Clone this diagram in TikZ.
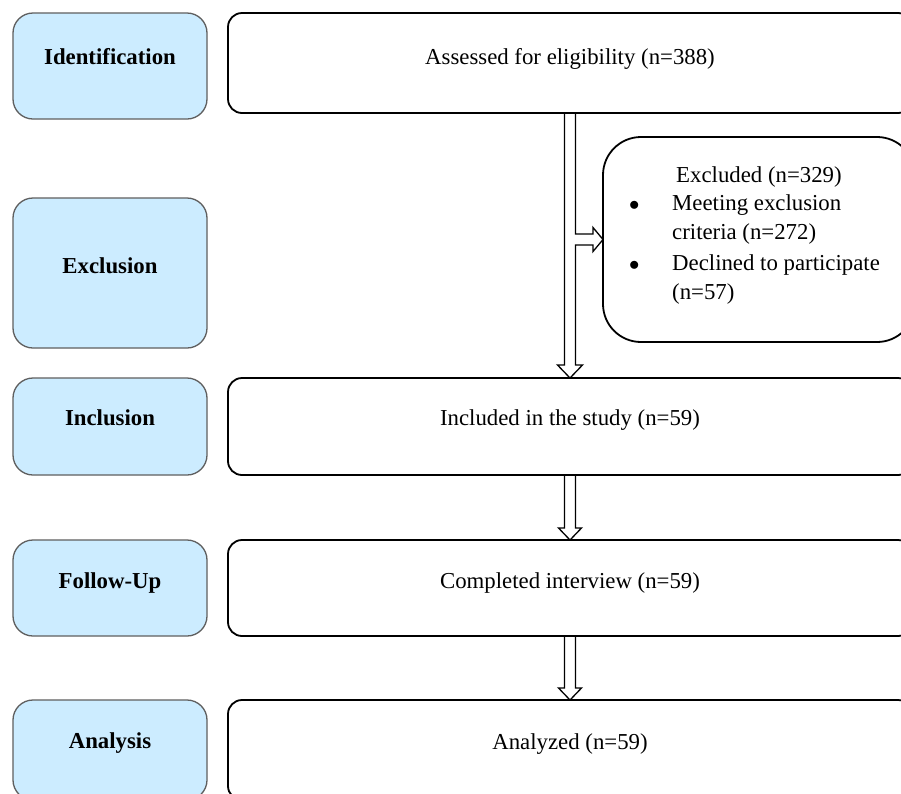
\documentclass[tikz,border=0pt]{standalone}
\usepackage{fontspec}
\setmainfont{Liberation Serif}
\usetikzlibrary{calc}
\pgfdeclarelayer{background}
\pgfsetlayers{background,main}
\definecolor{stageblue}{RGB}{204,236,255}
\definecolor{stageedge}{RGB}{95,95,95}
\begin{document}
\begin{tikzpicture}[x=1pt,y=-1pt,
  every node/.style={font=\fontsize{22.8}{28.7}\selectfont},
  stagebox/.style={draw=stageedge, line width=1.3pt, fill=stageblue, rounded corners=20pt,
    minimum width=194pt, inner sep=0pt, outer sep=0pt},
  flowbox/.style={draw=black, line width=1.8pt, rounded corners=14pt,
    minimum width=684pt, inner sep=0pt, outer sep=0pt},
  txt/.style={text height=16pt, text depth=0pt, inner sep=0pt, yshift=8.5pt},
  stagetxt/.style={txt, font=\bfseries\fontsize{22.8}{28.7}\selectfont},
  hollow/.style={draw=black, line width=1.3pt, fill=white, line join=miter}
]
\useasboundingbox (0,0) rectangle (901,793);
\clip (0,0) rectangle (901,793);

% stage boxes (left)
\node[stagebox, minimum height=106pt, label={[stagetxt,yshift=1.5pt]center:Identification}] (ident) at (110,66) {};
\node[stagebox, minimum height=150pt, label={[stagetxt,yshift=-1pt]center:Exclusion}] (excl) at (110,273) {};
\node[stagebox, minimum height=97pt, label={[stagetxt,yshift=1pt]center:Inclusion}] (incl) at (110,426.5) {};
\node[stagebox, minimum height=96pt, label={[stagetxt,yshift=-1pt]center:Follow-Up}] (foll) at (110,588) {};
\node[stagebox, minimum height=100pt, label={[stagetxt,yshift=1.5pt]center:Analysis}] (anal) at (110,750) {};

% flow boxes (right)
\node[flowbox, minimum height=100pt, label={[txt,yshift=-1.5pt]center:Assessed for eligibility (n=388)}] (assess) at (570,63) {};
\node[flowbox, minimum height=97pt, label={[txt,yshift=1pt]center:Included in the study (n=59)}] (included) at (570,426.5) {};
\node[flowbox, minimum height=96pt, label={[txt,yshift=-1pt]center:Completed interview (n=59)}] (completed) at (570,588) {};
\node[flowbox, minimum height=100pt, label={[txt,yshift=0.5pt]center:Analyzed (n=59)}] (analyzed) at (570,750) {};

% excluded box
\node[flowbox, rounded corners=38pt, minimum width=312pt, minimum height=205pt,
  label={[anchor=north west, inner sep=0pt, xshift=26pt, yshift=-25pt]north west:%
    \begin{tabular}[t]{@{}p{40pt}@{}l@{}}
      & \hspace{7pt}Excluded (n=329)\\
      $\bullet$ & \hspace{3pt}Meeting exclusion\\
      & \hspace{3pt}criteria (n=272)\\[2pt]
      $\bullet$ & \hspace{3pt}Declined to participate\\
      & \hspace{3pt}(n=57)
    \end{tabular}}] (excluded) at (759,239.5) {};

% hollow arrows
\begin{pgfonlayer}{background}
\fill[white] (0,0) rectangle (901,793);
\path[hollow]
  ($(assess.south)+(-5.5,0)$) -- ($(included.north)+(-5.5,-13)$)
  -- ($(included.north)+(-12.5,-13)$) -- (included.north)
  -- ($(included.north)+(12.5,-13)$) -- ($(included.north)+(5.5,-13)$)
  -- ($(assess.south |- excluded.west)+(5.5,5.5)$)
  -- ($(excluded.west)+(-10,5.5)$) -- ($(excluded.west)+(-10,12)$)
  -- (excluded.west)
  -- ($(excluded.west)+(-10,-12)$) -- ($(excluded.west)+(-10,-5.5)$)
  -- ($(assess.south |- excluded.west)+(5.5,-5.5)$)
  -- ($(assess.south)+(5.5,0)$);
\foreach \a/\b in {included/completed, completed/analyzed}{
  \path[hollow]
    ($(\a.south)+(-5.5,0)$) -- ($(\b.north)+(-5.5,-12)$)
    -- ($(\b.north)+(-11.5,-12)$) -- (\b.north)
    -- ($(\b.north)+(11.5,-12)$) -- ($(\b.north)+(5.5,-12)$)
    -- ($(\a.south)+(5.5,0)$);
}
\end{pgfonlayer}
\end{tikzpicture}
\end{document}
